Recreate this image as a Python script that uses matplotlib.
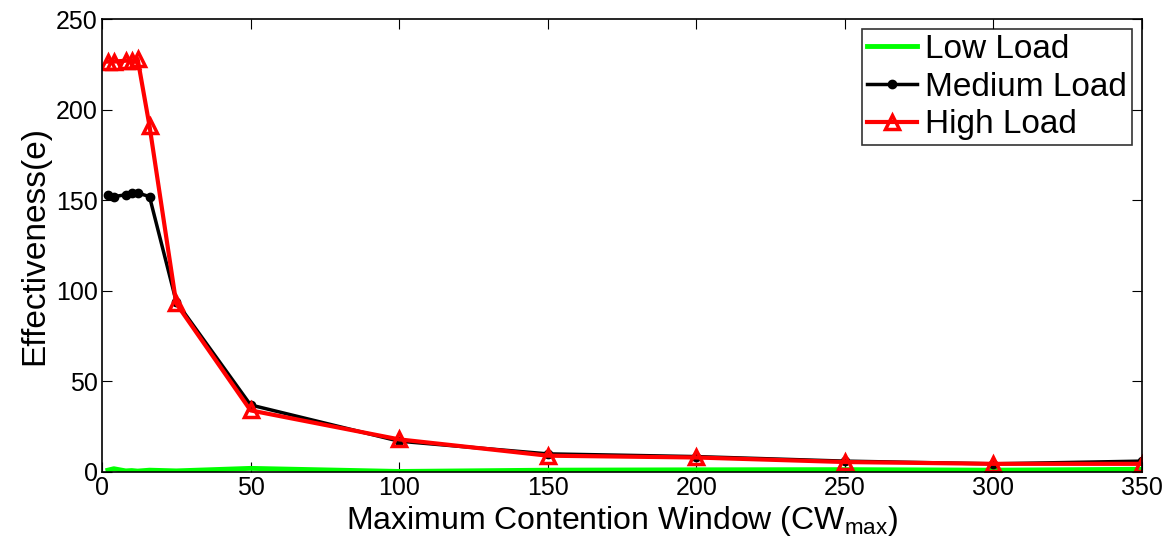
import matplotlib
matplotlib.use("Agg")
import matplotlib.pyplot as plt

cw_max = [2, 4, 8, 10, 12, 16, 25, 50, 100, 150, 200, 250, 300, 350]
low_load = [1.0, 1.8, 0.6, 0.8, 0.5, 1.0, 0.6, 2.0, 0.3, 1.0, 1.2, 1.3, 1.0, 1.5]
medium_load = [153, 152, 153, 154, 154, 152, 94, 37, 17, 10, 8.5, 6, 4.5, 6]
high_load = [226.5, 226.5, 227, 227, 228, 191, 93, 34, 18, 9, 8, 5.5, 4.5, 4.5]

x_ticks = [0, 50, 100, 150, 200, 250, 300, 350]
y_ticks = [0, 50, 100, 150, 200, 250]

plt.rcParams['font.family'] = ['Liberation Sans', 'DejaVu Sans']

fig = plt.figure(figsize=(11.76, 5.48), dpi=100)
ax = fig.add_axes([0.0867, 0.1387, 0.8844, 0.8266])

ax.plot(cw_max, low_load, color='#00ff00', lw=3.5, label='Low Load')
ax.plot(cw_max, medium_load, color='black', lw=2.5, marker='o', ms=6, label='Medium Load')
ax.plot(cw_max, high_load, color='red', lw=3, marker='^', ms=10, mfc='none', mew=2.5,
        label='High Load')

ax.set_xlim(0, 350)
ax.set_ylim(0, 250)
ax.set_xticks(x_ticks)
ax.set_yticks(y_ticks)
ax.tick_params(direction='in', top=True, right=True, length=7, width=0.8, labelsize=18, pad=3)
for s in ax.spines.values():
    s.set_linewidth(1.2)

ax.set_xlabel('Maximum Contention Window (CW$_{\\mathregular{max}}$)', fontsize=23, labelpad=3)
ax.set_ylabel('Effectiveness(e)', fontsize=24, labelpad=4)

leg = ax.legend(loc='upper right', fontsize=24, frameon=True, fancybox=False,
                edgecolor='black', handlelength=1.5, borderpad=0.15, labelspacing=0.2,
                handletextpad=0.25, borderaxespad=0.3)
leg.get_frame().set_linewidth(1.2)

fig.savefig('out.png', dpi=100)
